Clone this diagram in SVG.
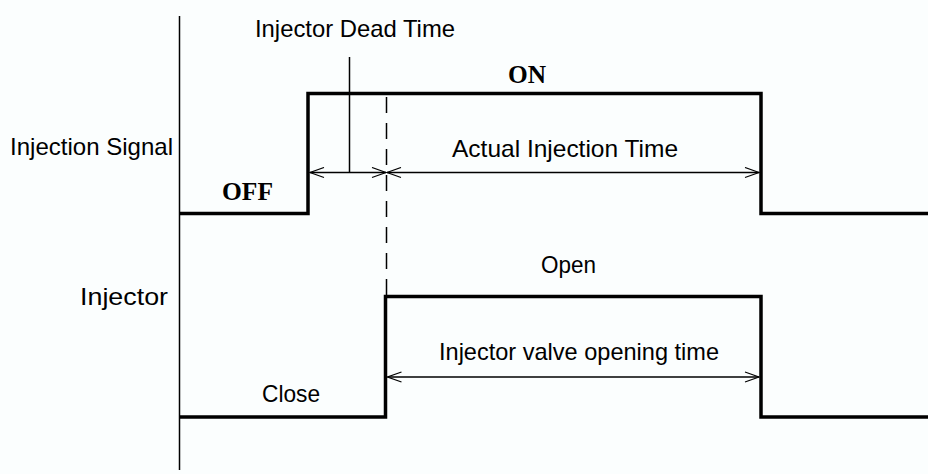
<svg xmlns="http://www.w3.org/2000/svg" width="928" height="474" viewBox="0 0 928 474">
<style>
.lbl{font-family:"Liberation Sans",Arial,sans-serif;font-size:24px;fill:#000}
.st{font-family:"Liberation Serif","Times New Roman",serif;font-size:26px;font-weight:bold;fill:#000}
.sig{fill:none;stroke:#000;stroke-width:3.5;stroke-linejoin:miter}
.thin{fill:none;stroke:#000;stroke-width:1.5}
.dash{fill:none;stroke:#000;stroke-width:1.5;stroke-dasharray:16 10}
</style>
<defs>
<marker id="ah" viewBox="0 0 16 12" refX="15" refY="6" markerWidth="16" markerHeight="12" markerUnits="userSpaceOnUse" orient="auto-start-reverse">
<path d="M1,1 L15,6 L1,11" fill="none" stroke="#000" stroke-width="1.2"/>
</marker>
</defs>
<rect width="928" height="474" fill="#fbfefe"/>
<g id="axis">
<line x1="179.5" y1="16" x2="179.5" y2="470" class="thin"/>
</g>
<g id="injection-signal">
<polyline class="sig" points="179,213.5 308,213.5 308,93.5 761,93.5 761,213.5 928,213.5"/>
<text class="lbl" x="10" y="155" textLength="163" lengthAdjust="spacingAndGlyphs">Injection Signal</text>
<text class="st" x="508" y="83" textLength="38" lengthAdjust="spacingAndGlyphs">ON</text>
<text class="st" x="222" y="200" textLength="51" lengthAdjust="spacingAndGlyphs">OFF</text>
</g>
<g id="injector">
<polyline class="sig" points="179,417 385.5,417 385.5,296.5 761,296.5 761,417 928,417"/>
<text class="lbl" x="80" y="305" textLength="88" lengthAdjust="spacingAndGlyphs">Injector</text>
<text class="lbl" x="541" y="273" textLength="55" lengthAdjust="spacingAndGlyphs">Open</text>
<text class="lbl" x="262" y="402" textLength="58" lengthAdjust="spacingAndGlyphs">Close</text>
</g>
<g id="connectors">
<line x1="349.5" y1="57" x2="349.5" y2="172.5" class="thin"/>
<line x1="386.5" y1="97" x2="386.5" y2="296" class="dash"/>
<line x1="310" y1="172.5" x2="386" y2="172.5" class="thin" marker-start="url(#ah)" marker-end="url(#ah)"/>
<line x1="387" y1="172.5" x2="759" y2="172.5" class="thin" marker-start="url(#ah)" marker-end="url(#ah)"/>
<line x1="387.5" y1="377" x2="759" y2="377" class="thin" marker-start="url(#ah)" marker-end="url(#ah)"/>
</g>
<g id="labels">
<text class="lbl" x="255" y="37" textLength="200" lengthAdjust="spacingAndGlyphs">Injector Dead Time</text>
<text class="lbl" x="452" y="157" textLength="226" lengthAdjust="spacingAndGlyphs">Actual Injection Time</text>
<text class="lbl" x="439" y="360" textLength="280" lengthAdjust="spacingAndGlyphs">Injector valve opening time</text>
</g>
</svg>
